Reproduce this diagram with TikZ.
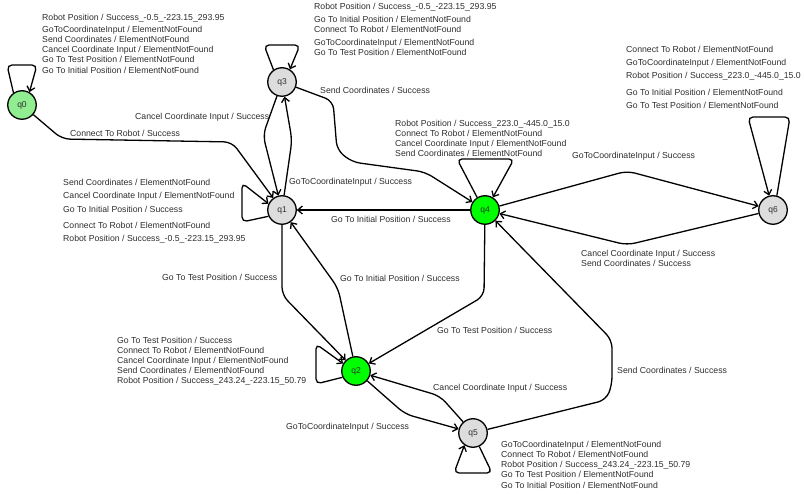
\documentclass[tikz,border=0pt]{standalone}
\usepackage{fontspec}
\setmainfont{Liberation Sans}
\usetikzlibrary{arrows.meta}
\definecolor{textgray}{HTML}{2E2E2E}
\definecolor{stategray}{HTML}{DDDDDD}
\definecolor{lightgreen}{HTML}{90EE90}
\definecolor{brightgreen}{HTML}{00FF00}
\tikzset{
  state/.style={
    circle, draw=black, line width=1.3pt, minimum size=28.5pt,
    inner sep=0pt, text=textgray, font=\fontsize{8.5}{9}\selectfont,
  },
  idle/.style={state, fill=stategray},
  active/.style={state, fill=brightgreen},
  start/.style={state, fill=lightgreen},
  edge/.style={
    -{Straight Barb[length=4.5pt,width=8pt]}, line width=1.3pt,
    draw=black, rounded corners=8pt,
  },
  loopedge/.style={edge, rounded corners=5pt},
  tlabel/.style={
    anchor=north west, inner sep=0pt, align=left, text=textgray,
    font=\fontsize{8.7}{10}\selectfont,
  }
}

\begin{document}
\begin{tikzpicture}[x=1pt, y=1pt]
  \useasboundingbox (0,0) rectangle (804,-494);

  % States
  \node[start]  (q0) at ( 22,-105) {q0};
  \node[idle]   (q3) at (282, -82) {q3};
  \node[idle]   (q1) at (282,-210) {q1};
  \node[active] (q4) at (485,-210) {q4};
  \node[idle]   (q6) at (773,-210) {q6};
  \node[active] (q2) at (356,-371) {q2};
  \node[idle]   (q5) at (473,-433) {q5};

  % Self loops
  \draw[loopedge] (q0.125) -- (7,-65) -- (37,-65) -- (q0.60);
  \draw[loopedge] (q3.125) -- (264,-45) -- (300,-45) -- (q3.58);
  \draw[loopedge] (q1.205) -- (242,-222) -- (242,-183) -- (q1.155);
  \draw[loopedge] (q4.122) -- (457,-159) -- (514,-159) -- (q4.58);
  \draw[loopedge] (q6.75) -- (790,-117) -- (748,-117) -- (q6.105);
  \draw[loopedge] (q2.205) -- (316,-384) -- (316,-344) -- (q2.150);
  \draw[loopedge] (q5.-65) -- (492,-473) -- (454,-473) -- (q5.-125);

  % Transitions
  \draw[edge] (q0) -- (62,-139) -- (232,-142) -- (q1);
  \draw[edge] (q3) -- (263,-135) -- (q1);
  \draw[edge] (q1) -- (292,-140) -- (q3);
  \draw[edge] (q3) -- (333,-101) -- (337,-150) -- (352,-162)
                   -- (425,-172) -- (q4);
  \draw[edge] (q4) -- (q1);
  \draw[edge] (q4) -- (627,-171) -- (q6);
  \draw[edge] (q6) -- (627,-245) -- (q4);
  \draw[edge] (q1) -- (282,-295) -- (q2);
  \draw[edge] (q2) -- (338,-288) -- (q1);
  \draw[edge] (q4) -- (484,-296) -- (q2);
  \draw[edge] (q2) -- (405,-414) -- (q5);
  \draw[edge] (q5) -- (440,-396) -- (q2);
  \draw[edge] (q5) -- (606,-400) -- (612,-385) -- (612,-340) -- (q4);

  % Loop labels
  \node[tlabel] (l0) at (42,-13.8)
    {Robot Position / Success\_-0.5\_-223.15\_293.95\\[2pt]
     GoToCoordinateInput / ElementNotFound\\
     Send Coordinates / ElementNotFound\\
     Cancel Coordinate Input / ElementNotFound\\
     Go To Test Position / ElementNotFound\\[1.5pt]
     Go To Initial Position / ElementNotFound};
  \node[tlabel] (l3) at (314,-3.2)
    {Robot Position / Success\_-0.5\_-223.15\_293.95\\[2.5pt]
     Go To Initial Position / ElementNotFound\\[0.7pt]
     Connect To Robot / ElementNotFound\\[2.7pt]
     GoToCoordinateInput / ElementNotFound\\
     Go To Test Position / ElementNotFound};
  \node[tlabel] (l1) at (63,-178.5)
    {Send Coordinates / ElementNotFound\\[3pt]
     Cancel Coordinate Input / ElementNotFound\\[4pt]
     Go To Initial Position / Success\\[6pt]
     Connect To Robot / ElementNotFound\\[3pt]
     Robot Position / Success\_-0.5\_-223.15\_293.95};
  \node[tlabel] (l4) at (395,-119.8)
    {Robot Position / Success\_223.0\_-445.0\_15.0\\
     Connect To Robot / ElementNotFound\\
     Cancel Coordinate Input / ElementNotFound\\
     Send Coordinates / ElementNotFound};
  \node[tlabel] (l6) at (626,-45.8)
    {Connect To Robot / ElementNotFound\\[3pt]
     GoToCoordinateInput / ElementNotFound\\[3.4pt]
     Robot Position / Success\_223.0\_-445.0\_15.0\\[6.6pt]
     Go To Initial Position / ElementNotFound\\[3.4pt]
     Go To Test Position / ElementNotFound};
  \node[tlabel] (l2) at (117,-336.5)
    {Go To Test Position / Success\\
     Connect To Robot / ElementNotFound\\
     Cancel Coordinate Input / ElementNotFound\\
     Send Coordinates / ElementNotFound\\
     Robot Position / Success\_243.24\_-223.15\_50.79};
  \node[tlabel] (l5) at (501,-440.5)
    {GoToCoordinateInput / ElementNotFound\\
     Connect To Robot / ElementNotFound\\
     Robot Position / Success\_243.24\_-223.15\_50.79\\
     Go To Test Position / ElementNotFound\\[1pt]
     Go To Initial Position / ElementNotFound};

  % Transition labels
  \node[tlabel] (t01) at (70,-129.5) {Connect To Robot / Success};
  \node[tlabel] (t31) at (135,-113.2) {Cancel Coordinate Input / Success};
  \node[tlabel] (t34) at (320,-87.2) {Send Coordinates / Success};
  \node[tlabel] (t13) at (289,-178.2) {GoToCoordinateInput / Success};
  \node[tlabel] (t46) at (572,-151.5) {GoToCoordinateInput / Success};
  \node[tlabel] (t64) at (581,-249.8)
    {Cancel Coordinate Input / Success\\Send Coordinates / Success};
  \node[tlabel] (t41) at (331,-215.5) {Go To Initial Position / Success};
  \node[tlabel] (t12) at (162,-274.2) {Go To Test Position / Success};
  \node[tlabel] (t21) at (340,-274.5) {Go To Initial Position / Success};
  \node[tlabel] (t42) at (437,-326.5) {Go To Test Position / Success};
  \node[tlabel] (t52) at (433,-384.2) {Cancel Coordinate Input / Success};
  \node[tlabel] (t25) at (286,-423.2) {GoToCoordinateInput / Success};
  \node[tlabel] (t54) at (617,-366.5) {Send Coordinates / Success};

\end{tikzpicture}
\end{document}
